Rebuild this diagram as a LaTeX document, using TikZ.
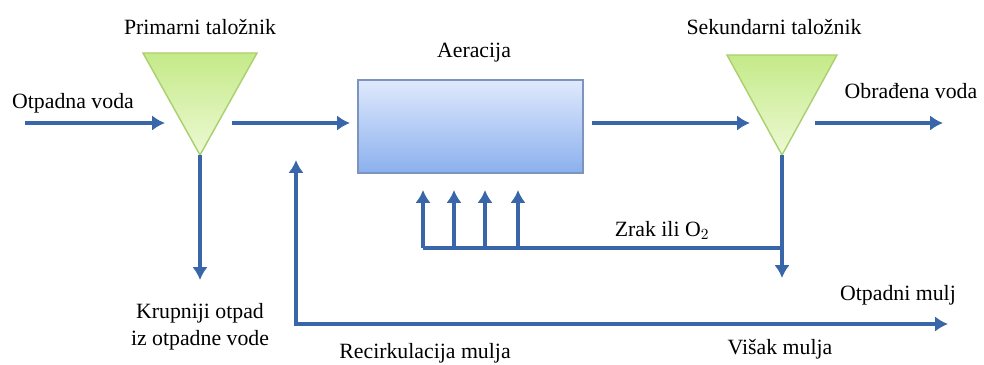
\documentclass[tikz,border=0pt]{standalone}
\usepackage{fontspec}
\setmainfont{Liberation Serif}
\usetikzlibrary{arrows.meta}
\definecolor{flowc}{HTML}{3866A8}
\definecolor{tankc}{HTML}{C4EA88}
\definecolor{tanklc}{HTML}{EDF9D4}
\definecolor{tankd}{HTML}{A9D06C}
\definecolor{boxc}{HTML}{7D95BE}
\definecolor{boxt}{HTML}{DFE9FC}
\definecolor{boxb}{HTML}{8BB0EE}

\begin{document}
\begin{tikzpicture}[x=.025cm, y=-.025cm, font=\fontsize{15.5}{19.2}\selectfont,
        >={Latex[length=.32cm, width=.38cm]},
        pipe/.style={draw=flowc, line width=2.6pt},
        flow/.style={pipe, ->},
        tank/.style={top color=tankc, bottom color=tanklc, draw=tankd, line width=1pt}]
            \useasboundingbox (0, 0) rectangle (984, 364);
            \shade[tank](143, 53)--(257, 53)--(200, 155)--cycle;
            \shade[tank](727, 55)--(837, 55)--(782, 155)--cycle;
            \coordinate (pt) at (200, 155);
            \coordinate (st) at (782, 155);
            \node[draw=boxc, line width=1.2pt, top color=boxt, bottom color=boxb,
                minimum width=5.62cm, minimum height=2.32cm] (aer) at (470.5, 126.5) {};
            \node (ptl) at (200, 27) {Primarni taložnik};
            \node (stl) at (774, 27) {Sekundarni taložnik};
            \node (aerl) at (474, 53) {Aeracija};
            \node (inl) at (73, 103) {Otpadna voda};
            \node (outl) at (911, 91) {Obrađena voda};
            \node (airl) at (662, 230) {Zrak ili O$_2$};
            \node (wastel) at (898, 295) {Otpadni mulj};
            \node[align=center] (coarsel) at (200, 326.5) {Krupniji otpad\\iz otpadne vode};
            \node (recl) at (425, 353) {Recirkulacija mulja};
            \node (excl) at (780, 349) {Višak mulja};
            \coordinate (in) at (25, 123);
            \coordinate (pin) at (165, 123);
            \coordinate (pout) at (232, 123);
            \coordinate (ain) at (350, 123);
            \coordinate (aout) at (592, 123);
            \coordinate (sin) at (750, 123);
            \coordinate (sout) at (815, 123);
            \coordinate (out) at (943, 123);
            \coordinate (coarse) at (200, 280);
            \coordinate (exc) at (782, 278);
            \coordinate (rec) at (296, 160);
            \coordinate (waste) at (948, 324);
            \coordinate (air) at (423, 248);
            \coordinate (airs) at (782, 248);
            \draw[flow](in)--(pin);
            \draw[flow](pout)--(ain);
            \draw[flow](aout)--(sin);
            \draw[flow](sout)--(out);
            \draw[flow](pt)--(coarse);
            \draw[flow](st)--(exc);
            \draw[pipe, <->](rec)|-(waste);
            \draw[pipe](air)--(airs);
            \foreach \x in {423, 454, 485, 518}
                \draw[flow](\x, 248)--(\x, 190);
        \end{tikzpicture}
\end{document}
